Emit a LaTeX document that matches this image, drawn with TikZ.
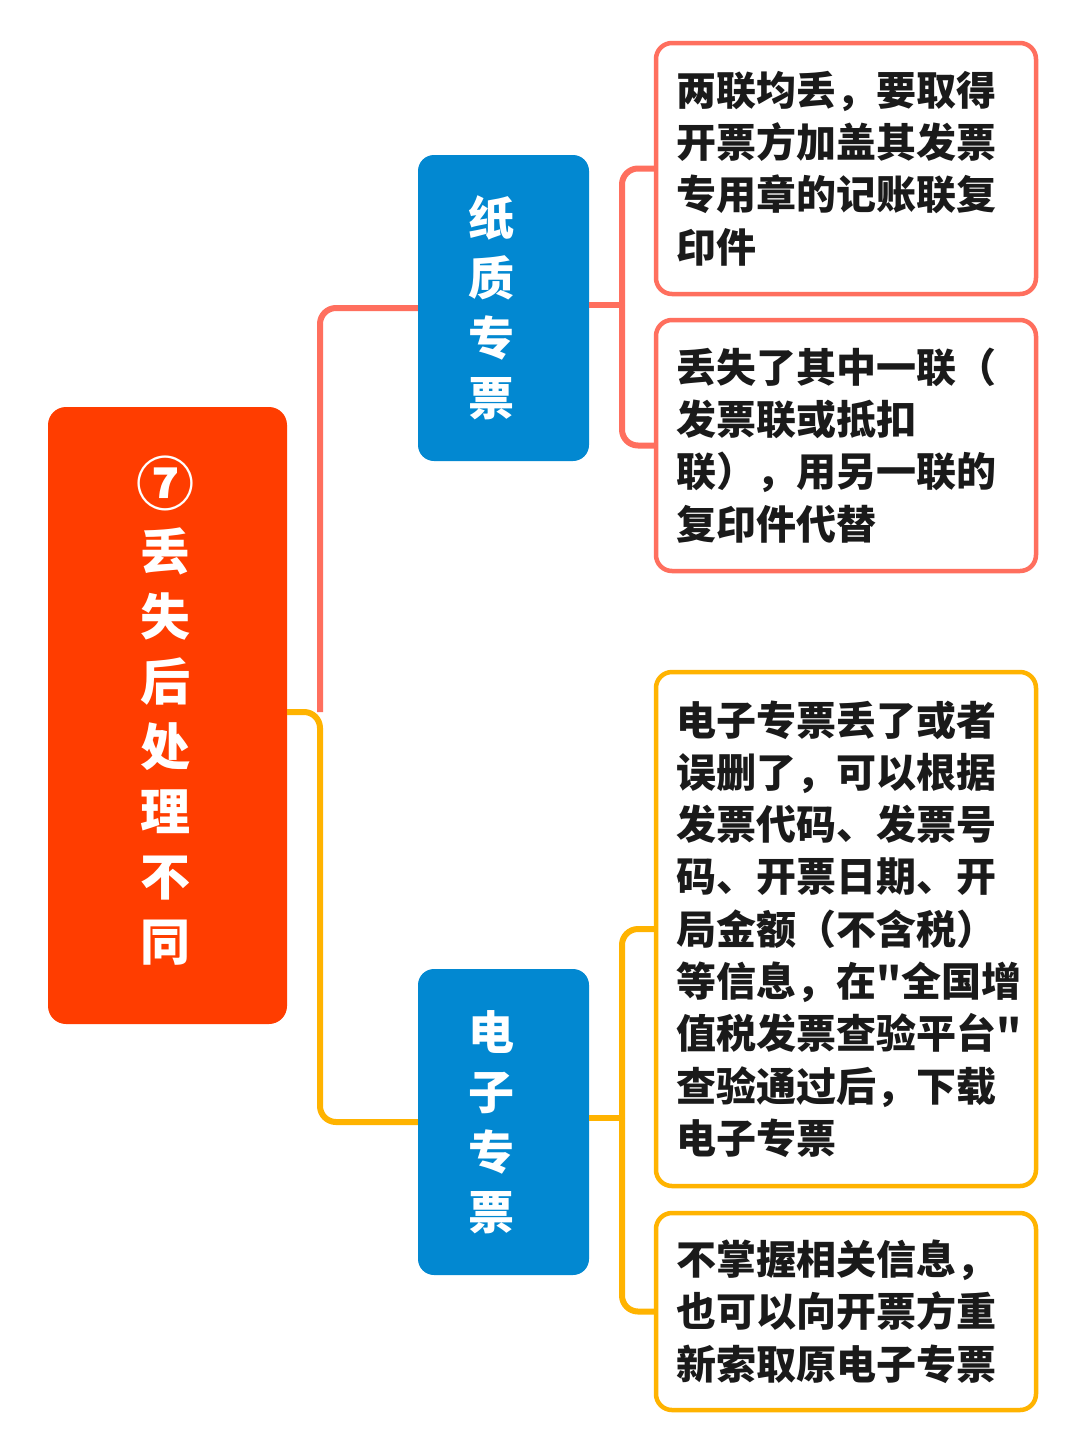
\documentclass[tikz,border=0pt]{standalone}
\usepackage{fontspec}
\newfontfamily\cjk{Noto Sans CJK SC}
\definecolor{rootc}{HTML}{FF3D00}
\definecolor{bluec}{HTML}{0288D1}
\definecolor{redc}{HTML}{FF6F5E}
\definecolor{yelc}{HTML}{FFB300}
\definecolor{txtc}{HTML}{1A1A1A}
\tikzset{
  rootbox/.style={fill=rootc, draw=none, rounded corners=18pt, minimum width=239pt, minimum height=617pt, inner sep=0pt},
  roottext/.style={text=white, align=center, inner sep=0pt, font=\cjk\bfseries\fontsize{50}{65}\selectfont},
  midbox/.style={fill=bluec, draw=none, rounded corners=16pt, minimum width=171pt, minimum height=306pt, inner sep=0pt},
  midtext/.style={text=white, align=center, inner sep=0pt, font=\cjk\bfseries\fontsize{46}{60}\selectfont},
  leafbox/.style={fill=white, line width=4.5pt, rounded corners=16pt, text width=340pt, inner xsep=20pt, inner ysep=0pt, minimum width=380pt, align=left, text=txtc, font=\cjk\bfseries\fontsize{40}{52.3}\selectfont},
  redline/.style={draw=redc, line width=6pt, rounded corners=16pt},
  yelline/.style={draw=yelc, line width=6pt, rounded corners=16pt},
}
\begin{document}
\begin{tikzpicture}[x=1pt,y=-1pt]
\fill[white] (0,0) rectangle (1080,1452);
\useasboundingbox (0,0) rectangle (1080,1452);

\coordinate (rj) at (320,712);
\coordinate (pj) at (622,305);
\coordinate (ej) at (622,1118);

\node[rootbox] (root) at (167.5,715.5) {};
\node[roottext] (roottxt) at ([xshift=-2pt,yshift=5pt]root.center) {{\fontsize{58}{65}\selectfont ⑦}\\丢\\失\\后\\处\\理\\不\\同};
\node[midbox] (paper) at (503.5,308) {};
\node[midtext] (papertxt) at ([xshift=-12pt]paper.center) {纸\\质\\专\\票};
\node[midbox] (ebox) at (503.5,1122) {};
\node[midtext] (eboxtxt) at ([xshift=-12pt]ebox.center) {电\\子\\专\\票};

\node[leafbox, draw=redc, minimum height=251pt] (l1) at (846,168.5) {两联均丢，要取得\\开票方加盖其发票\\专用章的记账联复\\印件};
\node[leafbox, draw=redc, minimum height=251pt] (l2) at (846,445.5) {丢失了其中一联（\\发票联或抵扣\\联），用另一联的\\复印件代替};
\node[leafbox, draw=yelc, minimum height=514pt] (l3) at (846,929) {电子专票丢了或者\\误删了，可以根据\\发票代码、发票号\\码、开票日期、开\\局金额（不含税）\\等信息，在"全国增\\值税发票查验平台"\\查验通过后，下载\\电子专票};
\node[leafbox, draw=yelc, minimum height=197pt] (l4) at (846,1311.5) {不掌握相关信息，\\也可以向开票方重\\新索取原电子专票};

\draw[redline] (rj) |- (paper.west);
\draw[yelline] (root.east |- rj) -- (rj) |- (ebox.west);
\draw[redline] (paper.east |- pj) -- (pj);
\draw[redline] (pj) |- (l1.west);
\draw[redline] (pj) |- (l2.west);
\draw[yelline] (ebox.east |- ej) -- (ej);
\draw[yelline] (ej) |- (l3.west);
\draw[yelline] (ej) |- (l4.west);
\end{tikzpicture}
\end{document}
